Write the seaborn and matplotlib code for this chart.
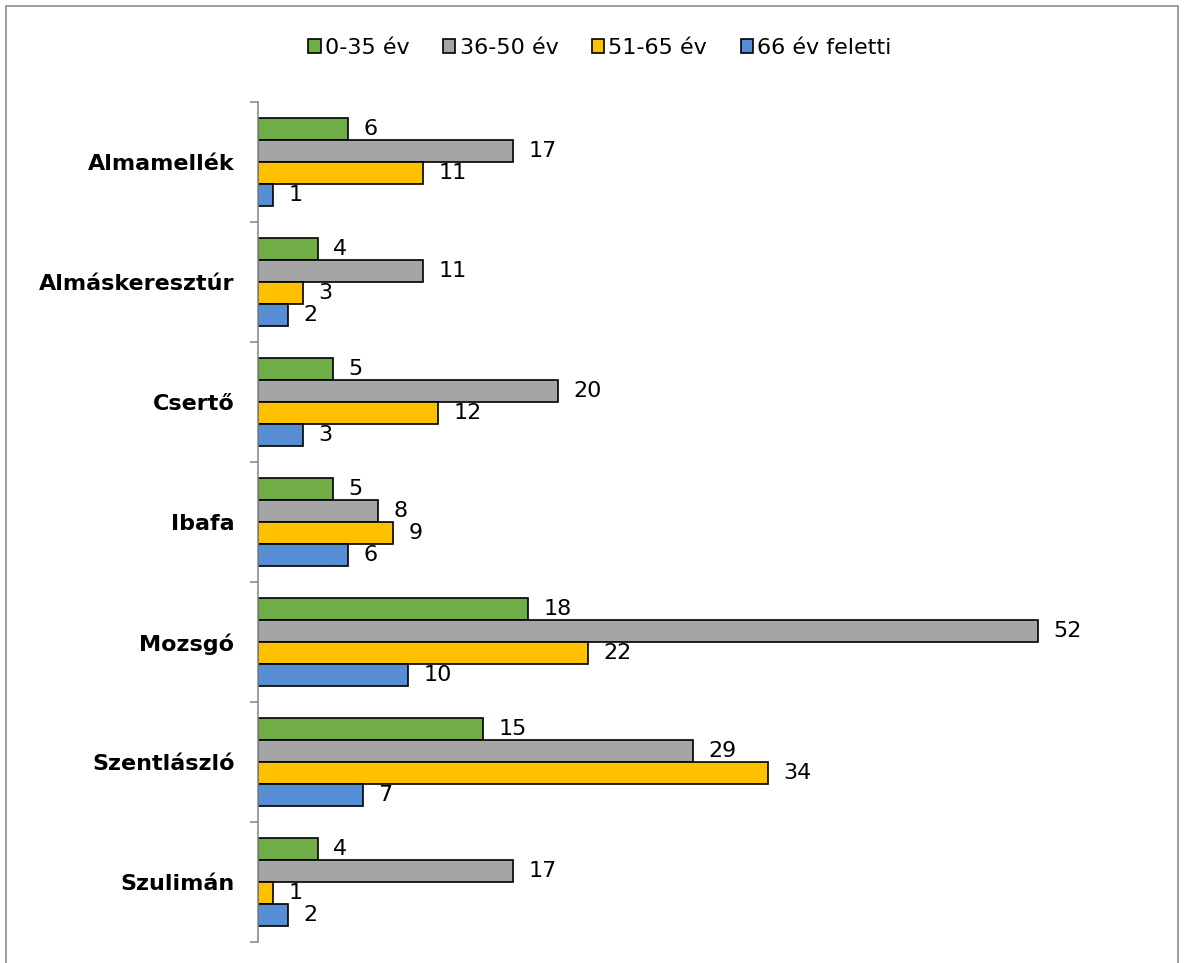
import pandas as pd
import numpy as np
import matplotlib.pyplot as plt
import seaborn as sns
from matplotlib.patches import Rectangle

# data
telepulesek = ['Almamellék', 'Almáskeresztúr', 'Csertő', 'Ibafa', 'Mozsgó', 'Szentlászló', 'Szulimán']
korcsoportok = ['0-35 év', '36-50 év', '51-65 év', '66 év feletti']
ev_0_35 = [6, 4, 5, 5, 18, 15, 4]
ev_36_50 = [17, 11, 20, 8, 52, 29, 17]
ev_51_65 = [11, 3, 12, 9, 22, 34, 1]
ev_66_felett = [1, 2, 3, 6, 10, 7, 2]

colors = ['#70AD47', '#A5A5A5', '#FFC000', '#558ED5']

sns.set_style('white')
plt.rcParams['font.family'] = ['DejaVu Sans']
plt.rcParams['text.color'] = 'black'
plt.rcParams['ytick.labelcolor'] = 'black'

rows = []
for grp, vals in zip(korcsoportok, [ev_0_35, ev_36_50, ev_51_65, ev_66_felett]):
    for t, v in zip(telepulesek, vals):
        rows.append({'telepules': t, 'korcsoport': grp, 'fo': v})
df = pd.DataFrame(rows)

fig = plt.figure(figsize=(11.84, 9.63), dpi=100)
ax = fig.add_axes([258/1184, 1 - 942/963, 900/1184, 840/963])

sns.barplot(data=df, y='telepules', x='fo', hue='korcsoport', order=telepulesek,
            hue_order=korcsoportok, palette=colors, orient='h', width=0.733,
            edgecolor='black', linewidth=1.2, saturation=1, ax=ax, legend=True)

for c in ax.containers:
    ax.bar_label(c, padding=11, fontsize=16, color='black')

ax.set_xlim(0, 60)
ax.set_ylim(len(telepulesek) - 0.5, -0.5)
ax.set_xlabel('')
ax.set_ylabel('')
ax.set_xticks([])
for s in ['top', 'right', 'bottom']:
    ax.spines[s].set_visible(False)
ax.spines['left'].set_color('#8c8c8c')
ax.spines['left'].set_linewidth(1.2)

ax.tick_params(axis='y', which='major', length=0, pad=17, labelsize=16)
for lbl in ax.get_yticklabels():
    lbl.set_fontweight('bold')
ax.set_yticks(np.arange(-0.5, len(telepulesek)), minor=True)
ax.tick_params(axis='y', which='minor', length=6, width=1.2, color='#8c8c8c', left=True)

handles, labels = ax.get_legend_handles_labels()
ax.get_legend().remove()
fig.legend(handles, labels, loc='center', bbox_to_anchor=(600/1184, 1 - 48/963), ncol=4,
           frameon=False, fontsize=16, handlelength=0.55, handleheight=0.55,
           handletextpad=0.2, columnspacing=1.5)

fig.patches.append(Rectangle((6/1184, -0.01), 1172/1184, 1 - 6/963 + 0.01,
                             transform=fig.transFigure, fill=False,
                             edgecolor='#8c8c8c', linewidth=1.2))

plt.savefig('out.png', dpi=100)
